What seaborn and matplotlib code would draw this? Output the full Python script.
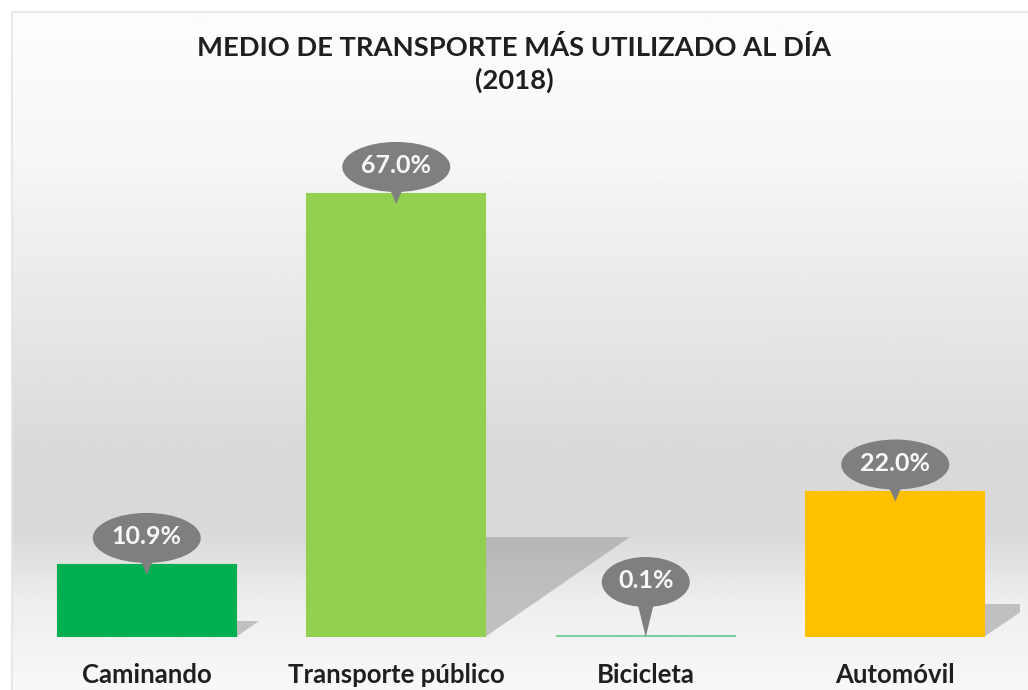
"""Medio de transporte más utilizado al día (2018)."""

import matplotlib

matplotlib.use("Agg")

import matplotlib.pyplot as plt
import numpy as np
import seaborn as sns
from matplotlib.patches import Ellipse, Polygon, Rectangle

categories = ["Caminando", "Transporte público", "Bicicleta", "Automóvil"]
values = [10.9, 67.0, 0.1, 22.0]
labels = ["10.9%", "67.0%", "0.1%", "22.0%"]
colors = ["#00b050", "#92d050", "#7fcf9a", "#ffc000"]

title = "MEDIO DE TRANSPORTE MÁS UTILIZADO AL DÍA"
subtitle = "(2018)"

sns.set_theme(style="white")
plt.rcParams["font.family"] = ["Lato", "DejaVu Sans"]

W, H = 1028, 690
fig = plt.figure(figsize=(W / 100, H / 100), dpi=100)

# background: white page, framed panel with a vertical grey gradient
bg = fig.add_axes([0, 0, 1, 1], zorder=-10)
bg.set_xlim(0, W)
bg.set_ylim(H, 0)
bg.axis("off")
stops_y = [10, 150, 300, 450, 530, 600, 690]
stops_c = [253, 246, 232, 217, 217, 238, 248]
ys = np.arange(H)
shade = np.interp(ys, stops_y, stops_c) / 255.0
grad = np.repeat(shade[:, None], 2, axis=1)
bg.imshow(grad, cmap="gray", vmin=0, vmax=1, aspect="auto",
          extent=(12, W, H, 12), interpolation="bilinear")
bg.add_patch(Rectangle((12, 12), W, H, fill=False, edgecolor="#e4e4e4", lw=1.2))

# main axes
left, bottom, width, height = 22, 53, 998, 529
ax = fig.add_axes([left / W, bottom / H, width / W, height / H])
ax.patch.set_alpha(0)
bar_w = 0.715
sns.barplot(x=categories, y=values, hue=categories, palette=colors,
            width=bar_w, legend=False, saturation=1, ax=ax, zorder=3)
ax.set_xlim(-0.5, 3.5)
ax.set_ylim(0, 80)
for p, c in zip(ax.patches, colors):
    p.set_edgecolor(c)
    p.set_linewidth(1.5)

px = width / 4.0   # pixels per x unit
py = height / 80.0  # pixels per y unit

# floor shadows
for i, v in enumerate(values):
    if v < 1:
        continue
    xr = i + bar_w / 2
    sh = 0.225 * v
    sw = 1.45 * sh * py / px
    ax.add_patch(Polygon([(xr, 0), (xr, sh), (xr + sw, sh)], closed=True,
                         facecolor="#9a9a9a", alpha=0.55, lw=0, zorder=1))

# callouts
for i, (v, lab) in enumerate(zip(values, labels)):
    top_px = v * py
    cy_px = max(top_px + 27, 55)
    tip_px = max(top_px - 10, 0)
    w_px = 20 * len(lab) + 8
    h_px = 50
    cy = cy_px / py
    ax.add_patch(Polygon([(i - 10 / px, cy - 14 / py), (i + 10 / px, cy - 14 / py),
                          (i, tip_px / py)], closed=True,
                         facecolor="#7f7f7f", lw=0, zorder=5))
    ax.add_patch(Ellipse((i, cy), w_px / px, h_px / py,
                         facecolor="#7f7f7f", lw=0, zorder=5))
    ax.text(i, cy + 1 / py, lab, ha="center", va="center", color="#f8f8f8",
            fontsize=18, fontweight="bold", zorder=6)

ax.set_xlabel("")
ax.set_ylabel("")
ax.set_yticks([])
ax.tick_params(axis="x", length=0, pad=19, labelsize=18.5, labelcolor="#1f1f1f")
for t in ax.get_xticklabels():
    t.set_fontweight("bold")
sns.despine(ax=ax, left=True, bottom=True)

fig.text(0.5, 1 - 47 / H, title, ha="center", va="center",
         fontsize=19.7, fontweight="bold", color="#1f1f1f")
fig.text(0.5, 1 - 80 / H, subtitle, ha="center", va="center",
         fontsize=19.7, fontweight="bold", color="#1f1f1f")

fig.savefig("out.png", dpi=100)
